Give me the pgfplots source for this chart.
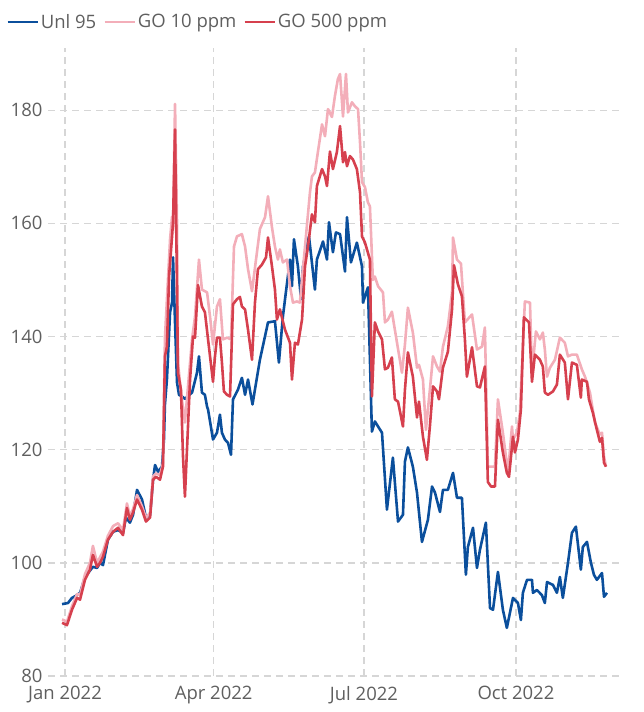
\documentclass[border=0pt]{standalone}
\usepackage{fontspec}
\setmainfont{Open Sans}
\usepackage{pgfplots}
\pgfplotsset{compat=1.18}

\definecolor{unlblue}{HTML}{0B4F9C}
\definecolor{gopink}{HTML}{F3AEB9}
\definecolor{gored}{HTML}{D6404E}
\definecolor{gridgray}{HTML}{D6D6D6}
\definecolor{txtgray}{HTML}{5F5F5F}

\begin{document}
\begin{tikzpicture}
\begin{axis}[
    scale only axis,
    width=572pt, height=628pt,
    xmin=-10.3, xmax=336,
    ymin=80, ymax=191,
    xtick={0,90,181,273},
    xticklabels={Jan 2022, Apr 2022, Jul 2022, Oct 2022},
    ytick={80,100,120,140,160,180},
    grid=major,
    grid style={gridgray, line width=1.4pt, dash pattern=on 7pt off 5pt},
    axis line style={draw=none},
    tick style={draw=none},
    /pgf/number format/assume math mode=true,
    ticklabel style={font=\fontsize{18.5}{22}\selectfont, text=txtgray},
    xticklabel style={yshift=-7pt},
    yticklabel style={xshift=-2pt},
    legend style={at={(rel axis cs:0,1)}, anchor=south west,
        xshift=-42pt, yshift=16pt, draw=none, fill=none,
        font=\fontsize{18.5}{22}\selectfont, text=txtgray,
        legend columns=3, inner sep=0pt,
        /tikz/every even column/.append style={column sep=5pt}},
    legend cell align=left,
    legend image code/.code={\draw[#1] (0pt,0pt) -- (30pt,0pt);},
    every axis plot/.append style={line width=2.6pt, line join=round},
]
\coordinate (sw) at (rel axis cs:0,0);

\addplot[color=unlblue, mark=none] coordinates {
(-1.8,92.7) (1.8,92.9) (4.2,93.8) (6.7,94.2) (9.1,94.7) (12.1,97.5) (16.9,99.3)
(19.4,99.1) (21.2,100.0) (23.0,99.6) (26.0,104.1) (29.1,105.5) (32.1,105.8)
(35.1,105.3) (36.9,108.0) (39.3,107.1) (41.2,108.5) (43.6,112.9) (46.6,111.2)
(49.0,108.0) (51.5,108.5) (53.3,114.7) (54.5,117.3) (56.3,116.1) (58.7,117.0)
(59.9,121.8) (60.5,128.0) (61.7,132.4) (63.6,144.3) (64.8,146.0) (65.4,154.0)
(66.6,142.5) (67.8,131.9) (69.0,129.7) (70.8,129.4) (72.6,129.0) (76.9,130.1)
(79.9,133.6) (81.1,136.5) (82.9,130.1) (84.7,129.7) (86.0,127.6) (86.6,127.1)
(89.6,121.8) (92.0,123.0) (93.8,126.2) (95.0,123.0) (96.8,121.8) (98.7,121.2)
(100.5,119.1) (101.7,128.9) (104.7,130.6) (107.1,132.7) (109.0,129.7)
(110.8,132.4) (113.5,128.0) (118.0,135.9) (122.9,142.5) (127.1,142.7)
(129.5,135.4) (131.9,143.5) (133.2,146.6) (136.2,153.6) (137.4,148.9)
(138.6,157.2) (141.0,152.4) (142.9,146.6) (144.1,152.4) (147.7,157.7)
(151.3,148.3) (152.5,153.6) (156.2,156.8) (158.6,153.6) (159.8,160.2)
(162.2,154.9) (164.0,158.4) (166.5,158.1) (169.5,151.5) (170.7,161.1)
(173.1,153.1) (176.7,156.6) (179.8,152.4) (180.4,146.0) (183.4,148.7)
(185.8,123.2) (187.6,125.0) (191.9,123.0) (194.9,109.4) (198.5,118.6)
(201.6,107.3) (204.6,108.5) (205.8,117.9) (207.6,120.4) (210.6,117.0)
(213.1,112.4) (216.1,103.7) (219.7,107.6) (222.2,113.5) (224.0,112.4)
(227.0,109.0) (228.8,112.9) (231.8,112.9) (234.9,115.9) (237.3,111.5)
(240.3,111.5) (242.7,97.9) (243.9,102.8) (247.0,106.2) (249.4,99.1)
(251.2,102.3) (254.8,107.1) (257.3,92.0) (259.1,91.7) (262.1,98.4)
(265.1,91.7) (267.5,88.5) (271.2,93.8) (274.2,92.9) (276.0,89.9) (277.2,94.7)
(279.7,97.0) (282.7,97.0) (283.3,94.7) (285.7,95.2) (288.7,94.3) (290.5,92.9)
(291.8,96.6) (295.4,96.1) (297.8,94.7) (299.6,97.5) (301.4,93.8) (304.5,100.0)
(306.9,105.3) (309.3,106.4) (312.3,98.8) (313.5,102.8) (316.0,103.7)
(318.4,100.0) (320.2,97.9) (322.0,97.0) (325.1,98.2) (326.3,94.0) (328.1,94.7)
};
\addlegendentry{Unl 95}

\addplot[color=gopink, mark=none] coordinates {
(-1.8,90.0) (1.2,89.6) (4.2,92.3) (7.3,94.5) (9.1,94.3) (12.1,98.0) (15.1,100.0)
(16.9,103.0) (19.4,100.0) (21.2,101.0) (23.0,102.0) (26.0,104.8) (29.1,106.5)
(32.1,107.0) (35.1,105.8) (37.5,110.5) (39.3,108.3) (41.2,109.5) (43.6,112.0)
(46.6,110.0) (49.0,108.0) (51.5,108.8) (53.3,115.3) (55.1,115.8) (57.5,115.5)
(59.3,117.6) (60.5,139.8) (63.6,157.2) (64.8,161.2) (65.4,159.0) (66.6,181.1)
(67.8,160.2) (68.4,135.4) (70.2,130.1) (72.6,124.8) (76.9,139.5) (78.7,143.5)
(81.1,153.6) (82.9,148.3) (86.0,147.8) (87.8,143.5) (89.6,138.6) (92.0,145.3)
(93.8,146.6) (95.6,139.5) (98.1,139.8) (100.5,139.5) (102.3,155.9)
(104.1,157.7) (107.1,158.1) (109.0,155.9) (110.8,151.9) (113.2,148.0)
(116.2,154.9) (118.0,159.0) (121.1,161.1) (122.9,164.8) (125.3,159.3)
(127.1,155.9) (128.9,153.6) (130.1,155.4) (131.9,153.1) (134.4,153.6)
(136.2,148.9) (138.0,146.0) (140.4,146.2) (142.2,146.0) (145.3,155.9)
(148.3,165.5) (149.5,168.3) (151.3,169.0) (153.1,172.6) (155.6,177.5)
(157.4,175.4) (159.2,180.2) (161.6,178.8) (163.4,182.5) (165.2,185.5)
(166.5,186.4) (168.3,178.9) (170.1,186.4) (171.3,179.6) (173.7,181.4)
(175.5,180.7) (177.4,180.2) (178.6,174.3) (179.8,167.3) (181.6,166.4)
(183.4,163.7) (184.6,163.0) (186.4,150.0) (187.6,150.6) (189.5,148.9)
(192.5,147.8) (193.7,142.5) (195.5,143.0) (197.9,144.4) (201.0,138.9)
(204.0,133.6) (205.8,138.6) (207.6,145.1) (210.6,140.7) (213.1,134.5)
(214.3,135.0) (216.7,132.4) (218.5,123.5) (220.9,130.6) (222.8,136.5)
(225.2,134.7) (227.0,133.8) (228.8,138.2) (231.8,141.8) (234.3,147.8)
(234.9,157.5) (237.3,153.6) (239.7,152.9) (242.1,142.5) (246.4,143.9)
(249.4,137.7) (252.4,138.2) (254.2,141.6) (256.0,117.0) (258.5,117.0)
(260.3,117.0) (262.1,128.9) (265.1,123.0) (268.2,115.9) (270.6,124.1)
(271.2,121.8) (273.6,123.0) (275.4,126.5) (278.4,146.2) (281.5,146.0)
(282.7,133.6) (285.1,140.9) (287.5,139.5) (289.3,140.7) (290.5,137.7)
(291.8,132.9) (293.6,134.5) (296.6,135.9) (299.6,139.8) (302.6,138.9)
(304.5,136.5) (306.9,136.8) (309.9,136.8) (312.9,134.2) (314.8,132.9)
(317.8,130.1) (320.8,124.8) (323.8,122.7) (325.1,123.0) (326.3,118.8)
(327.5,117.0)
};
\addlegendentry{GO 10 ppm}

\addplot[color=gored, mark=none] coordinates {
(-1.8,89.4) (1.2,89.0) (4.2,91.7) (7.3,93.8) (9.1,93.5) (12.1,97.0) (15.1,98.8)
(16.9,101.4) (19.4,99.3) (21.2,100.0) (23.0,101.1) (26.0,104.1) (29.1,105.5)
(32.1,106.2) (35.1,104.9) (37.5,109.7) (39.3,107.6) (41.2,108.9) (43.6,111.2)
(46.6,109.4) (49.0,107.3) (51.5,108.0) (53.3,114.7) (55.1,115.2) (57.5,114.7)
(59.3,117.0) (60.5,136.5) (61.7,138.2) (63.0,150.6) (64.8,157.7) (65.4,160.2)
(66.6,176.6) (67.8,148.3) (68.4,133.6) (70.2,130.6) (71.4,119.0) (72.6,111.7)
(75.7,132.4) (77.5,140.0) (78.7,139.8) (80.5,149.1) (82.9,145.3) (84.7,144.3)
(86.6,139.5) (89.6,132.0) (90.8,136.5) (92.0,139.8) (93.8,139.8) (95.0,135.4)
(96.2,130.3) (98.1,129.7) (99.9,129.4) (101.7,145.7) (104.1,146.6)
(105.9,147.0) (107.1,145.3) (109.0,144.8) (110.8,141.2) (113.2,135.9)
(115.0,146.0) (116.8,151.9) (119.2,152.7) (121.7,154.0) (122.9,157.5)
(125.3,152.4) (127.1,148.3) (128.3,143.0) (130.1,144.8) (133.2,141.2)
(136.2,138.9) (137.4,132.4) (139.2,138.9) (141.0,138.6) (143.5,143.0)
(145.3,152.4) (147.1,155.9) (149.5,161.6) (151.3,160.2) (152.5,166.6)
(155.6,169.6) (157.4,168.3) (158.6,166.6) (160.4,172.7) (162.2,169.6)
(164.6,172.6) (166.5,177.2) (168.3,170.8) (169.5,172.6) (170.7,170.1)
(172.5,171.9) (174.3,171.3) (176.7,169.6) (178.6,165.5) (179.8,157.7)
(181.6,156.6) (182.8,155.4) (184.6,153.6) (185.8,129.4) (187.6,142.5)
(189.5,140.9) (191.9,139.5) (193.7,134.2) (195.5,134.5) (197.9,136.3)
(199.7,128.9) (201.6,128.5) (204.6,124.1) (205.8,130.6) (207.6,137.2)
(210.6,132.9) (213.1,125.7) (214.3,128.5) (216.7,122.3) (219.1,118.2)
(220.9,124.1) (222.8,131.2) (225.2,130.3) (226.4,128.9) (228.8,134.5)
(231.8,137.3) (234.3,144.8) (235.5,152.6) (237.9,149.2) (240.3,147.1)
(242.1,139.5) (243.3,132.9) (246.4,138.1) (249.4,131.2) (251.2,131.0)
(254.2,134.7) (256.0,114.3) (257.9,113.5) (260.3,113.5) (262.1,125.3)
(265.1,119.5) (267.5,115.9) (268.8,115.2) (271.2,122.3) (272.4,119.5)
(274.2,121.8) (276.0,127.1) (277.8,143.4) (280.9,142.5) (282.7,132.0)
(284.5,136.8) (287.5,135.9) (289.3,134.7) (290.5,130.1) (292.4,129.7)
(295.4,130.3) (297.8,131.5) (299.6,136.8) (302.6,135.4) (304.5,128.9)
(306.9,135.4) (309.9,135.0) (312.3,129.2) (312.9,132.4) (316.0,132.0)
(317.2,128.9) (319.6,126.5) (322.0,123.5) (323.8,121.4) (325.1,122.1)
(326.3,117.7) (327.5,117.0)
};
\addlegendentry{GO 500 ppm}
\end{axis}
\pgfresetboundingbox
\path ([shift={(-48pt,-36pt)}]sw) rectangle ++(643pt,712pt);
\end{tikzpicture}
\end{document}
